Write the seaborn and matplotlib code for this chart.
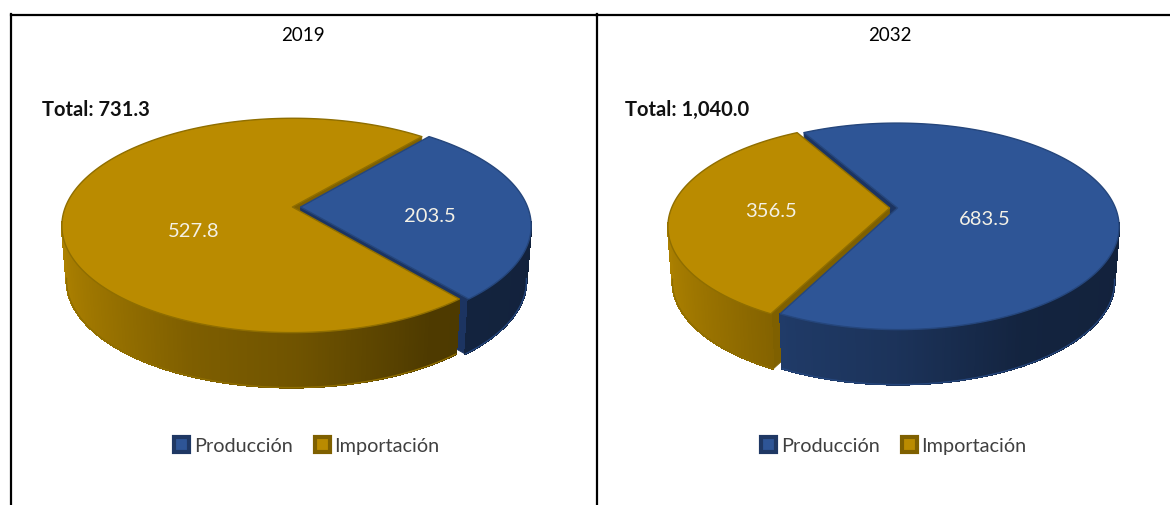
# pastel 3D produccion / importacion
import numpy as np
import seaborn as sns
import matplotlib.pyplot as plt
from matplotlib.collections import PolyCollection
from matplotlib.patches import Patch, Polygon

# datos
years = ["2019", "2032"]
categories = ["Producción", "Importación"]
values_2019 = [203.5, 527.8]
values_2032 = [683.5, 356.5]
totals = ["Total: 731.3", "Total: 1,040.0"]

# geometria de cada pastel, en pixeles de la imagen
panels = [
    {"box": (10.5, 596.5), "cx": 296.5, "cy": 207, "a": 227, "b": 104, "k": 0.172,
     "start": 50.0, "title_x": 303, "total_x": 42, "legend_x": 307,
     "label_xy": [(430, 217), (194, 232)]},
    {"box": (596.5, 1170), "cx": 893.5, "cy": 208, "a": 218, "b": 100, "k": 0.178,
     "start": 119.5, "title_x": 890, "total_x": 625, "legend_x": 894,
     "label_xy": [(985, 220), (771, 212)]},
]
depth = 55
shrink = 0.02
explode = 0.018
wall_cut = -0.15

sns.set_theme(style="white")
plt.rcParams["font.family"] = ["Lato", "DejaVu Sans"]

top_colors = sns.color_palette(["#2E5596", "#BA8B00"])
line_colors = ["#25467C", "#8F6E00"]
cut_colors = ["#1C3461", "#7F6000"]
legend_edge = ["#1F3864", "#7F6000"]
shade_u = [-1.0, -0.4, 0.0, 0.5, 1.0]
shade_f = [0.92, 0.68, 0.60, 0.42, 0.40]


def project(p, u, v, z=0.0):
    s = 1 / (1 + p["k"] * v)
    m = 1 - shrink * z
    return np.column_stack([p["cx"] + p["a"] * u * s * m,
                            p["cy"] - p["b"] * v * s + depth * z])


def draw_pie(ax, p, values):
    fracs = np.array(values) / sum(values)
    ends = p["start"] - 360 * np.cumsum(fracs)
    starts = np.r_[p["start"], ends[:-1]]
    cuts, walls, tops = [], [], []
    for i, (a0, a1) in enumerate(zip(starts, ends)):
        mid = np.radians((a0 + a1) / 2)
        ox, oy = explode * np.cos(mid), explode * np.sin(mid)
        t = np.radians(np.linspace(a0, a1, int(abs(a1 - a0)) * 2 + 2))
        u, v = ox + np.cos(t), oy + np.sin(t)

        # caras de corte, solo las que miran al frente
        for j, normal in ((0, a0 + 90), (-1, a1 - 90)):
            if np.sin(np.radians(normal)) >= 0:
                continue
            uu = np.array([ox, u[j]])
            vv = np.array([oy, v[j]])
            verts = np.vstack([project(p, uu, vv), project(p, uu[::-1], vv[::-1], 1)])
            cuts.append((v[j], Polygon(verts, fc=cut_colors[i], ec=cut_colors[i], lw=0.6)))

        # pared exterior, con sombra segun la posicion
        up = project(p, u, v)
        lo = project(p, u, v, 1)
        quads, shades = [], []
        rgb = np.array(top_colors[i])
        for n in range(len(t) - 1):
            if v[n] > wall_cut and v[n + 1] > wall_cut:
                continue
            quads.append([up[n], up[n + 1], lo[n + 1], lo[n]])
            shades.append(rgb * np.interp((u[n] + u[n + 1]) / 2, shade_u, shade_f))
        walls.append(PolyCollection(quads, facecolors=shades, edgecolors=shades,
                                    linewidths=0.8, antialiaseds=False))

        # borde inferior solo en el frente
        front = v <= wall_cut
        ax.plot(lo[front, 0], lo[front, 1], color=line_colors[i], lw=1.0, zorder=3.5)

        tip = project(p, np.array([ox]), np.array([oy]))
        tops.append(Polygon(np.vstack([tip, up]), fc=top_colors[i], ec=line_colors[i],
                            lw=1.0, joinstyle="round"))

    # primero la cara del fondo
    cuts.sort(key=lambda c: -c[0])
    for _, c in cuts:
        c.set_zorder(2)
        ax.add_patch(c)
    for w in walls:
        w.set_zorder(3)
        ax.add_collection(w)
    for top in tops:
        top.set_zorder(4)
        ax.add_patch(top)


fig = plt.figure(figsize=(11.7, 5.05), dpi=100, facecolor="white")
for p, year, values, total in zip(panels, years, [values_2019, values_2032], totals):
    x0, x1 = p["box"]
    ax = fig.add_axes([x0 / 1170, 0, (x1 - x0) / 1170, (505 - 14.5) / 505])
    ax.set_xlim(x0, x1)
    ax.set_ylim(505, 14.5)
    ax.set_xticks([])
    ax.set_yticks([])
    sns.despine(ax=ax, top=False, right=True, bottom=True)
    for side in ("top", "left"):
        ax.spines[side].set_color("black")
        ax.spines[side].set_linewidth(1.6)

    draw_pie(ax, p, values)

    ax.text(p["title_x"], 36, year, ha="center", va="center", fontsize=13.5, color="black")
    ax.text(p["total_x"], 110, total, ha="left", va="center", fontsize=14.5,
            fontweight="bold", color="#111111")
    for (lx, ly), val in zip(p["label_xy"], values):
        ax.text(lx, ly, f"{val:,.1f}", ha="center", va="center", fontsize=14.5,
                color="#F4F1E6", zorder=6)

    handles = [Patch(facecolor=top_colors[i], edgecolor=legend_edge[i], linewidth=3.0,
                     joinstyle="round", label=categories[i]) for i in range(2)]
    ax.legend(handles=handles, loc="center", bbox_to_anchor=(p["legend_x"], 446),
              bbox_transform=ax.transData, ncol=2, frameon=False, fontsize=14.3,
              labelcolor="#404040", handlelength=0.72, handleheight=0.72,
              handletextpad=0.25, columnspacing=1.15)

fig.savefig("out.png", dpi=100)
